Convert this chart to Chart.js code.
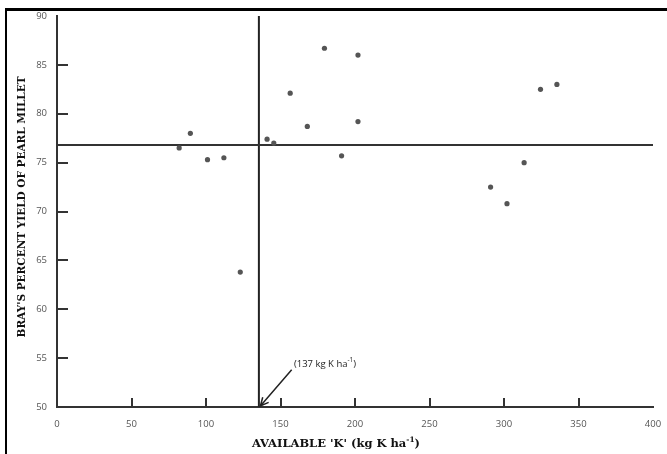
<!DOCTYPE html>
<html lang="en">
<head>
<meta charset="UTF-8">
<title>Bray's Percent Yield vs Available K</title>
<script src="https://cdn.jsdelivr.net/npm/chart.js"></script>
<style>
    body { margin: 0; background: #fff; }
    #wrap { position: relative; width: 667px; height: 454px; overflow: hidden; }
    /* the black frame of the original figure (top and left only are visible) */
    #frame { position: absolute; left: 5px; top: 8px; width: 700px; height: 500px;
             border-top: 3px solid #000; border-left: 2px solid #000; }
    #chart { position: absolute; left: 0; top: 0; }
</style>
</head>
<body>
<div id="wrap">
    <div id="frame"></div>
    <canvas id="chart" width="667" height="454"></canvas>
</div>
<script>
    // one entry per site: available K (kg K/ha) and Bray's percent yield
    const availableK = [82, 89.5, 101, 112, 123, 141, 145.5, 156.5, 168, 179.5, 191, 202, 202, 291, 302, 313.5, 324.5, 335.5];
    const braysYield = [76.5, 78.0, 75.3, 75.5, 63.8, 77.4, 77.0, 82.1, 78.7, 86.7, 75.7, 86.0, 79.2, 72.5, 70.8, 75.0, 82.5, 83.0];

    // Cate-Nelson critical lines
    const criticalK = 135.5;
    const criticalYield = 76.8;
    const criticalLabel = "137";

    const xTicks = [0, 50, 100, 150, 200, 250, 300, 350, 400];
    const yTicks = [50, 55, 60, 65, 70, 75, 80, 85, 90];

    const xMin = xTicks[0], xMax = xTicks[xTicks.length - 1];
    const yMin = yTicks[0], yMax = yTicks[yTicks.length - 1];

    const points = availableK.map((k, i) => ({ x: k, y: braysYield[i] }));

    const tickFont = { family: "'Open Sans', sans-serif", size: 9.5 };

    // draws a string with a trailing superscript piece
    function drawSupText(ctx, base, sup, tail, font, supFont, cx, cy, align) {
        ctx.font = font;
        const w1 = ctx.measureText(base).width;
        const w3 = ctx.measureText(tail).width;
        ctx.font = supFont;
        const w2 = ctx.measureText(sup).width;
        const total = w1 + w2 + w3;
        let x = align === 'left' ? cx : cx - total / 2;
        ctx.textAlign = 'left';
        ctx.textBaseline = 'middle';
        ctx.font = font;
        ctx.fillText(base, x, cy);
        ctx.font = supFont;
        ctx.fillText(sup, x + w1, cy - 3.5);
        ctx.font = font;
        ctx.fillText(tail, x + w1 + w2, cy);
    }

    const decorations = {
        id: 'decorations',
        afterDraw(chart) {
            const ctx = chart.ctx;
            const xs = chart.scales.x, ys = chart.scales.y;
            const area = chart.chartArea;
            ctx.save();

            // inward tick marks
            ctx.strokeStyle = '#333';
            ctx.lineWidth = 2;
            ctx.beginPath();
            yTicks.slice(1, -1).forEach(v => {
                const py = Math.round(ys.getPixelForValue(v));
                ctx.moveTo(area.left, py);
                ctx.lineTo(area.left + 11, py);
            });
            xTicks.slice(1, -1).forEach(v => {
                const px = Math.round(xs.getPixelForValue(v));
                ctx.moveTo(px, area.bottom);
                ctx.lineTo(px, area.bottom - 9);
            });
            ctx.stroke();

            // axis titles
            ctx.fillStyle = '#111';
            ctx.font = "bold 10.5px 'DejaVu Serif', serif";
            ctx.save();
            ctx.translate(22, 207);
            ctx.rotate(-Math.PI / 2);
            ctx.textAlign = 'center';
            ctx.textBaseline = 'middle';
            ctx.fillText("BRAY'S PERCENT YIELD OF PEARL MILLET", 0, 0);
            ctx.restore();

            drawSupText(ctx, "AVAILABLE 'K' (kg K ha", "-1", ")", "bold 11.5px 'DejaVu Serif', serif",
                        "bold 7.5px 'DejaVu Serif', serif", 336, area.bottom + 37, 'center');

            // annotation with arrow to the critical K value
            ctx.fillStyle = '#222';
            drawSupText(ctx, "(" + criticalLabel + " kg K ha", "-1", ")",
                        "9.5px 'Open Sans', sans-serif", "6.5px 'Open Sans', sans-serif",
                        xs.getPixelForValue(159), ys.getPixelForValue(54.4), 'left');

            const tx = xs.getPixelForValue(157.5), ty = ys.getPixelForValue(53.8);
            const hx = xs.getPixelForValue(criticalK + 1), hy = ys.getPixelForValue(yMin) - 1;
            const ang = Math.atan2(hy - ty, hx - tx);
            ctx.strokeStyle = '#222';
            ctx.lineWidth = 1.5;
            ctx.beginPath();
            ctx.moveTo(tx, ty);
            ctx.lineTo(hx, hy);
            ctx.moveTo(hx - 9 * Math.cos(ang - 0.45), hy - 9 * Math.sin(ang - 0.45));
            ctx.lineTo(hx, hy);
            ctx.lineTo(hx - 9 * Math.cos(ang + 0.45), hy - 9 * Math.sin(ang + 0.45));
            ctx.stroke();

            ctx.restore();
        }
    };

    new Chart(document.getElementById('chart'), {
        type: 'scatter',
        data: {
            datasets: [
                {
                    data: points,
                    pointRadius: 2.6,
                    pointBackgroundColor: '#555',
                    pointBorderWidth: 0
                },
                {
                    data: [{ x: xMin, y: criticalYield }, { x: xMax, y: criticalYield }],
                    showLine: true, borderColor: '#333', borderWidth: 2, pointRadius: 0
                },
                {
                    data: [{ x: criticalK, y: yMin }, { x: criticalK, y: yMax }],
                    showLine: true, borderColor: '#222', borderWidth: 2, pointRadius: 0
                }
            ]
        },
        options: {
            responsive: false,
            animation: false,
            layout: { padding: { top: 16, right: 14, left: 0, bottom: 0 } },
            plugins: { legend: { display: false }, tooltip: { enabled: false } },
            scales: {
                x: {
                    type: 'linear', min: xMin, max: xMax,
                    grid: { display: false, drawTicks: false },
                    border: { color: '#333', width: 2 },
                    ticks: { stepSize: 50, padding: 12, color: '#555', font: tickFont, autoSkip: false, maxRotation: 0 },
                    afterFit: s => { s.height = 47; s.paddingLeft = 0; s.paddingRight = 0; }
                },
                y: {
                    min: yMin, max: yMax,
                    grid: { display: false, drawTicks: false },
                    border: { color: '#333', width: 2 },
                    ticks: { stepSize: 5, padding: 10, color: '#555', font: tickFont, autoSkip: false },
                    afterFit: s => { s.width = 57; s.paddingTop = 0; s.paddingBottom = 0; }
                }
            }
        },
        plugins: [decorations]
    });
</script>
</body>
</html>
